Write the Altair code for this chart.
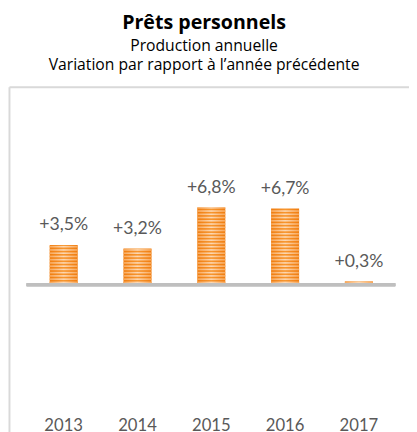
import altair as alt
import pandas as pd

years = ["2013", "2014", "2015", "2016", "2017"]
values = [3.5, 3.2, 6.8, 6.7, 0.3]
labels = ["+3,5%", "+3,2%", "+6,8%", "+6,7%", "+0,3%"]

df = pd.DataFrame({"year": years, "value": values, "label": labels})

# light horizontal stripes inside each bar (decoration derived from values)
period = 0.285
rows = []
for yr, v in zip(years, values):
    s = 0.0
    while s + period * 0.5 < v:
        rows.append({"year": yr, "y0": s + period * 0.5, "y1": min(s + period, v)})
        s += period
stripes = pd.DataFrame(rows)

FONT = "Lato"
TFONT = "Open Sans"
TXT = "#595959"
FRAME = "#d9d9d9"

xscale = alt.Scale(domain=years, paddingInner=0.62, paddingOuter=0.52, align=0.53)
yscale = alt.Scale(domain=[-13.62, 17.41], nice=False, zero=False)
yaxis = alt.Axis(orient="left", title=None, labels=False, ticks=False,
                 grid=False, domain=True, domainColor=FRAME, domainWidth=2)

bar_grad = alt.Gradient(
    gradient="linear", x1=0, x2=1, y1=0, y2=0,
    stops=[alt.GradientStop(color="#f07d10", offset=0),
           alt.GradientStop(color="#f7962f", offset=0.5),
           alt.GradientStop(color="#f07d10", offset=1)])
stripe_grad = alt.Gradient(
    gradient="linear", x1=0, x2=1, y1=0, y2=0,
    stops=[alt.GradientStop(color="#f8a95c", offset=0),
           alt.GradientStop(color="#fdd8b3", offset=0.5),
           alt.GradientStop(color="#f8a95c", offset=1)])

base = alt.Chart(df)

bars = base.mark_bar(color=bar_grad).encode(
    x=alt.X("year:N", scale=xscale,
            axis=alt.Axis(orient="bottom", title=None, domain=False, ticks=False,
                          labelAngle=0, labelFont=FONT, labelFontSize=17,
                          labelColor=TXT, labelBaseline="alphabetic",
                          labelPadding=0, offset=-9)),
    y=alt.Y("value:Q", scale=yscale, axis=yaxis),
)

stripe_layer = alt.Chart(stripes).mark_bar(color=stripe_grad).encode(
    x=alt.X("year:N", scale=xscale, axis=None),
    y=alt.Y("y0:Q", scale=yscale, axis=yaxis),
    y2="y1:Q",
)

zero_rule = base.mark_rule(color="#bfbfbf", strokeWidth=3).encode(
    y=alt.datum(0),
    x=alt.value(18),
    x2=alt.value(394),
)

text = base.mark_text(font=FONT, fontSize=18, color=TXT, baseline="alphabetic",
                      dy=-15).encode(
    x=alt.X("year:N", scale=xscale,
            axis=alt.Axis(orient="top", title=None, labels=False, ticks=False,
                          domain=True, domainColor=FRAME, domainWidth=2)),
    y=alt.Y("value:Q", scale=yscale, axis=yaxis),
    text="label:N",
)

chart = alt.layer(bars, stripe_layer, zero_rule, text).resolve_axis(
    x="independent"
).properties(
    width=408,
    height=360,
    padding={"left": 1, "top": 76, "right": 0, "bottom": 0},
    autosize=alt.AutoSizeParams(type="none"),
    title=alt.TitleParams(
        text="Prêts personnels",
        subtitle=["Production annuelle", "Variation par rapport à l’année précédente"],
        font=TFONT, fontSize=20, fontWeight="bold", color="#000000",
        subtitleFont=TFONT, subtitleFontSize=16, subtitleColor="#000000",
        subtitleLineHeight=20, subtitlePadding=5,
        anchor="middle", dx=-5, offset=14,
    ),
).configure_view(stroke=None)

chart.save("out.html", embed_options={"renderer": "svg", "actions": False})
